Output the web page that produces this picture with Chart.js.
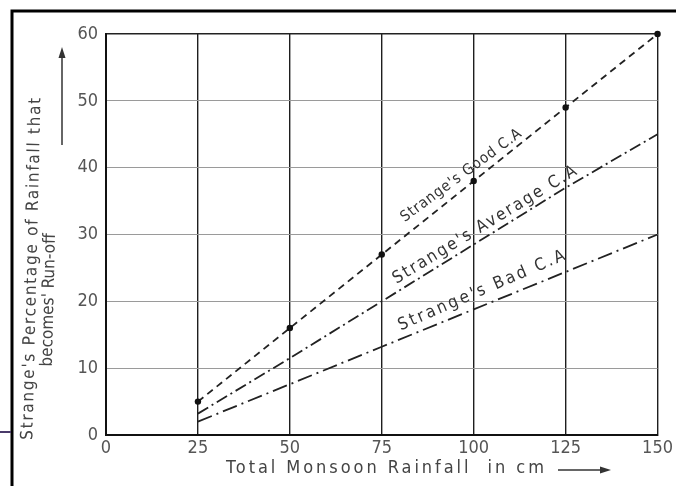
<!DOCTYPE html>
<html>
<head>
<meta charset="utf-8">
<script src="https://cdn.jsdelivr.net/npm/chart.js@4/dist/chart.umd.min.js"></script>
<style>
  html, body { margin: 0; padding: 0; background: #fff; }
  #wrap { width: 676px; height: 486px; position: relative; }
</style>
</head>
<body>
<div id="wrap"><canvas id="c"></canvas></div>
<script>
// ---- data ----
const rainfall = [25, 50, 75, 100, 125, 150];           // Total monsoon rainfall (cm)
const goodCA    = [5, 16, 27, 38, 49, 60];               // Strange's Good C.A (%)
const averageCA = [3.2, 11.5, 20, 28.5, 37, 45];         // Strange's Average C.A (%)
const badCA     = [2, 7.6, 13.2, 18.8, 24.4, 30];        // Strange's Bad C.A (%)
const xTickValues = [0, 25, 50, 75, 100, 125, 150];
const yTickValues = [0, 10, 20, 30, 40, 50, 60];
const seriesNames = ["Strange's Good C.A", "Strange's Average C.A", "Strange's Bad C.A"];
const yTitleLine1 = "Strange's Percentage of Rainfall that";
const yTitleLine2 = "becomes' Run-off";
const xTitle = "Total Monsoon Rainfall  in cm";

const FONT = "'DejaVu Sans Condensed', 'DejaVu Sans', sans-serif";
const INK = '#222';

function pts(ys) { return rainfall.map((x, i) => ({ x: x, y: ys[i] })); }

// labels along lines: [dataset index, start x (cm), perpendicular offset px, text length px, extra angle, font px]
const lineLabels = [
  [0, 83, 11, 146, -0.04, 15],
  [1, 80, 7, 212, 0, 17],
  [2, 81, 8, 180, 0.02, 17]
];

function valueAt(ys, x) {
  for (let i = 0; i < rainfall.length - 1; i++) {
    if (x >= rainfall[i] && x <= rainfall[i + 1]) {
      const t = (x - rainfall[i]) / (rainfall[i + 1] - rainfall[i]);
      return ys[i] + t * (ys[i + 1] - ys[i]);
    }
  }
  return ys[ys.length - 1];
}

function fitSpacing(ctx, text, width) {
  ctx.letterSpacing = '0px';
  const w = ctx.measureText(text).width;
  const ls = Math.max(0, (width - w) / Math.max(1, text.length - 1));
  ctx.letterSpacing = ls + 'px';
}

const decorPlugin = {
  id: 'decor',
  afterDatasetsDraw(chart) {
    const ctx = chart.ctx;
    const xs = chart.scales.x, ys = chart.scales.y;
    const seriesList = [goodCA, averageCA, badCA];
    ctx.save();
    ctx.fillStyle = '#333';
    ctx.textBaseline = 'alphabetic';
    ctx.textAlign = 'left';
    lineLabels.forEach(([di, sx, off, len, da, fs]) => {
      const s = seriesList[di];
      const x0 = xs.getPixelForValue(rainfall[0]), y0 = ys.getPixelForValue(s[0]);
      const x1 = xs.getPixelForValue(rainfall[rainfall.length - 1]), y1 = ys.getPixelForValue(s[s.length - 1]);
      const ang = Math.atan2(y1 - y0, x1 - x0) - da;
      const px = xs.getPixelForValue(sx), py = ys.getPixelForValue(valueAt(s, sx));
      ctx.save();
      ctx.font = fs + 'px ' + FONT;
      ctx.translate(px, py);
      ctx.rotate(ang);
      fitSpacing(ctx, seriesNames[di], len);
      ctx.fillText(seriesNames[di], 0, -off);
      ctx.restore();
    });
    ctx.restore();
  },
  afterDraw(chart) {
    const ctx = chart.ctx;
    ctx.save();
    // scan frame
    ctx.strokeStyle = '#000';
    ctx.lineWidth = 3;
    ctx.beginPath();
    ctx.moveTo(12, 486); ctx.lineTo(12, 11); ctx.lineTo(676, 11);
    ctx.stroke();
    ctx.strokeStyle = '#4a3a6a';
    ctx.lineWidth = 2;
    ctx.beginPath(); ctx.moveTo(0, 432); ctx.lineTo(11, 432); ctx.stroke();

    // y title (slightly tilted as in the scan)
    ctx.fillStyle = '#444';
    ctx.font = '17px ' + FONT;
    ctx.textAlign = 'center';
    ctx.textBaseline = 'middle';
    const tilt = 0.024;
    ctx.save();
    ctx.translate(32, 268);
    ctx.rotate(-Math.PI / 2 + tilt);
    fitSpacing(ctx, yTitleLine1, 342);
    ctx.fillText(yTitleLine1, 0, 0);
    ctx.restore();
    ctx.save();
    ctx.translate(49, 300);
    ctx.rotate(-Math.PI / 2 + tilt);
    fitSpacing(ctx, yTitleLine2, 130);
    ctx.fillText(yTitleLine2, 0, 0);
    ctx.restore();
    ctx.letterSpacing = '0px';
    // up arrow
    ctx.strokeStyle = '#333'; ctx.fillStyle = '#333'; ctx.lineWidth = 1.5;
    ctx.beginPath(); ctx.moveTo(62, 145); ctx.lineTo(62, 56); ctx.stroke();
    ctx.beginPath(); ctx.moveTo(62, 47); ctx.lineTo(58.5, 58); ctx.lineTo(65.5, 58); ctx.closePath(); ctx.fill();

    // x title
    ctx.fillStyle = '#444';
    ctx.textAlign = 'left';
    ctx.textBaseline = 'middle';
    ctx.font = '18px ' + FONT;
    fitSpacing(ctx, xTitle, 318);
    ctx.fillText(xTitle, 226, 468);
    ctx.letterSpacing = '0px';
    ctx.strokeStyle = '#333'; ctx.fillStyle = '#333'; ctx.lineWidth = 1.5;
    ctx.beginPath(); ctx.moveTo(558, 470); ctx.lineTo(602, 470); ctx.stroke();
    ctx.beginPath(); ctx.moveTo(611, 470); ctx.lineTo(600, 466.5); ctx.lineTo(600, 473.5); ctx.closePath(); ctx.fill();
    ctx.restore();
  }
};

const tickFont = { family: FONT, size: 18 };

new Chart(document.getElementById('c'), {
  type: 'line',
  data: {
    datasets: [
      { label: seriesNames[0], data: pts(goodCA), borderColor: INK, borderWidth: 1.8, clip: false,
        borderDash: [7, 5], pointRadius: 3.2, pointBackgroundColor: '#111', pointBorderWidth: 0, tension: 0 },
      { label: seriesNames[1], data: pts(averageCA), borderColor: INK, borderWidth: 1.8,
        borderDash: [12, 4, 2, 4], pointRadius: 0, tension: 0 },
      { label: seriesNames[2], data: pts(badCA), borderColor: INK, borderWidth: 1.8,
        borderDash: [15, 5, 2, 5], pointRadius: 0, tension: 0 }
    ]
  },
  options: {
    responsive: true,
    maintainAspectRatio: false,
    animation: false,
    layout: { padding: { left: 0, top: 34, right: 18, bottom: 0 } },
    plugins: { legend: { display: false }, tooltip: { enabled: false } },
    scales: {
      x: {
        type: 'linear', min: 0, max: 150,
        afterBuildTicks: s => { s.ticks = xTickValues.map(v => ({ value: v })); },
        afterFit: s => { s.height = 51; },
        grid: { color: '#1e1e1e', lineWidth: 1.4, drawTicks: false },
        border: { display: true, color: '#111', width: 2 },
        ticks: { color: '#555', font: tickFont, padding: 3, maxRotation: 0 }
      },
      y: {
        type: 'linear', min: 0, max: 60,
        afterBuildTicks: s => { s.ticks = yTickValues.map(v => ({ value: v })); },
        afterFit: s => { s.width = 106; },
        grid: { color: c => (c.tick && c.tick.value === 60) ? '#222' : '#9a9a9a',
                lineWidth: c => (c.tick && c.tick.value === 60) ? 1.6 : 1, drawTicks: false },
        border: { display: true, color: '#111', width: 2 },
        ticks: { color: '#555', font: tickFont, padding: 8 }
      }
    }
  },
  plugins: [decorPlugin]
});
</script>
</body>
</html>
